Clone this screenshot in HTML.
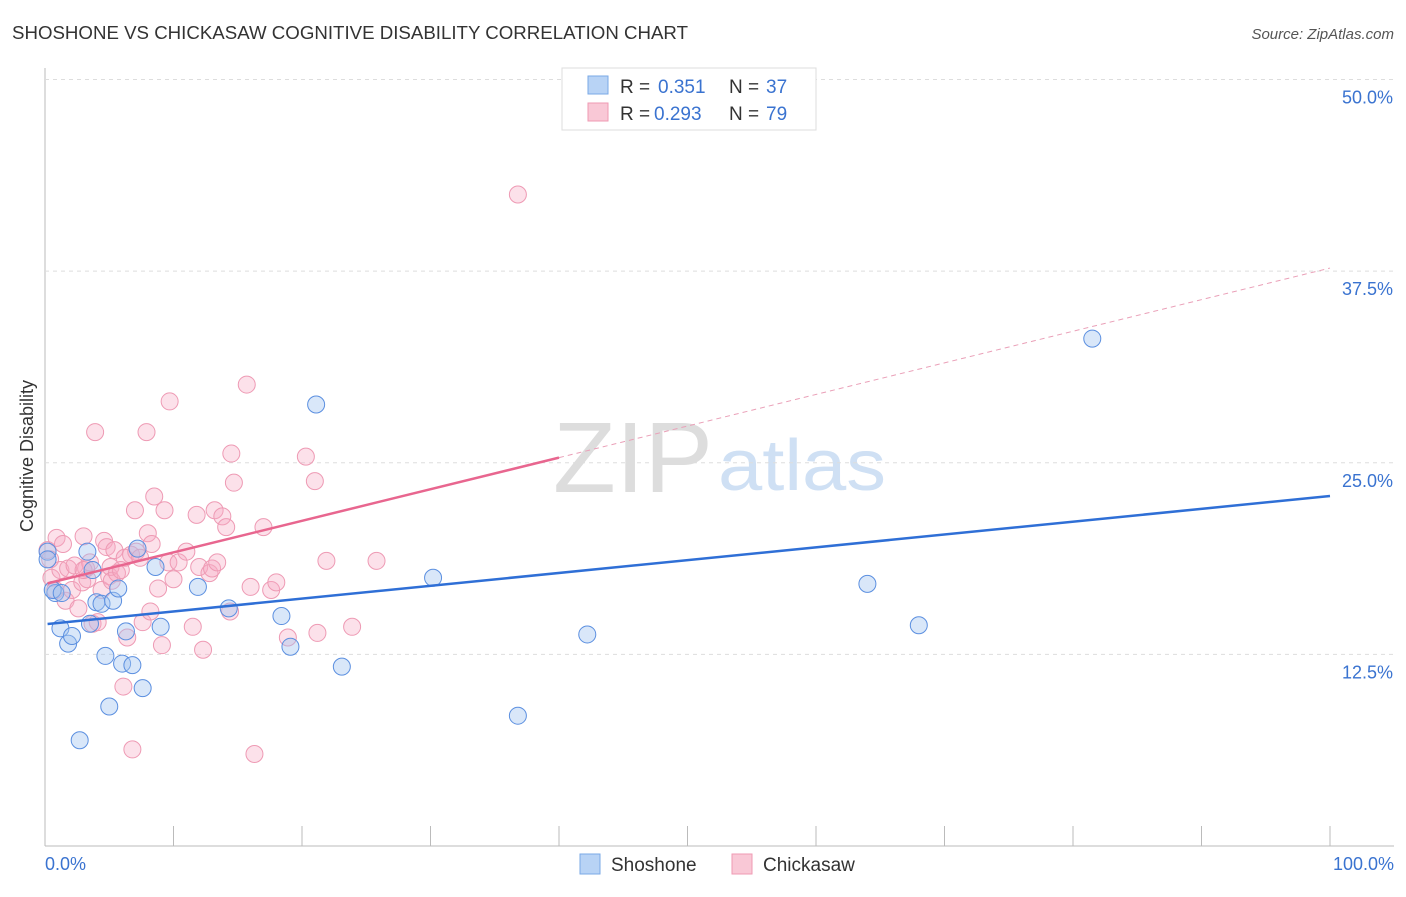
<!DOCTYPE html>
<html><head><meta charset="utf-8"><style>
body{margin:0;background:#fff;font-family:"Liberation Sans",sans-serif}
svg text{font-family:"Liberation Sans",sans-serif}
</style></head><body>
<svg id="chart" width="1406" height="892">
<text x="12" y="39" font-size="18" fill="#333" textLength="676" lengthAdjust="spacingAndGlyphs">SHOSHONE VS CHICKASAW COGNITIVE DISABILITY CORRELATION CHART</text>
<text x="1394" y="39" font-size="15" fill="#555" font-style="italic" text-anchor="end">Source: ZipAtlas.com</text>
<text x="33" y="456" font-size="18" fill="#333" text-anchor="middle" transform="rotate(-90 33 456)">Cognitive Disability</text>
<text x="553" y="492" font-size="100" fill="#ddd" font-family="Liberation Serif" textLength="160" lengthAdjust="spacingAndGlyphs">ZIP</text>
<text x="718" y="490" font-size="72" fill="#cfe0f4" textLength="168" lengthAdjust="spacingAndGlyphs">atlas</text>
<g id="grid"></g><g id="marks"></g><g id="lines"></g>
<g>
<rect x="562" y="68" width="254" height="62" fill="#fff" stroke="#ddd"/>
<rect x="588" y="76" width="20" height="18" fill="#b8d3f5" stroke="#7aa8e6"/>
<rect x="588" y="103" width="20" height="18" fill="#f9c8d6" stroke="#ef9ab3"/>
<text x="620" y="93" font-size="19" fill="#333">R =</text><text x="658" y="93" font-size="19" fill="#3a73d0">0.351</text>
<text x="729" y="93" font-size="19" fill="#333">N =</text><text x="766" y="93" font-size="19" fill="#3a73d0">37</text>
<text x="620" y="120" font-size="19" fill="#333">R =</text><text x="654" y="120" font-size="19" fill="#3a73d0">0.293</text>
<text x="729" y="120" font-size="19" fill="#333">N =</text><text x="766" y="120" font-size="19" fill="#3a73d0">79</text>
</g>
<g>
<rect x="580" y="854" width="20" height="20" fill="#b8d3f5" stroke="#7aa8e6"/>
<text x="611" y="871" font-size="19" fill="#333">Shoshone</text>
<rect x="732" y="854" width="20" height="20" fill="#f9c8d6" stroke="#ef9ab3"/>
<text x="763" y="871" font-size="19" fill="#333">Chickasaw</text>
</g>
</svg>
<script>
const yTicks=[12.5,25,37.5,50];
const yTickLabels=["12.5%","25.0%","37.5%","50.0%"];
const xTickLabels=["0.0%","100.0%"];
const shoshoneX=[0.2,0.8,1.2,1.8,2.1,2.7,3.3,3.5,3.7,4.0,4.4,4.7,5.0,5.3,5.7,6.0,6.3,6.8,7.2,7.6,8.6,9.0,11.9,14.3,18.4,19.1,21.1,23.1,30.2,36.8,42.2,64.0,68.0,81.5,0.6,0.2,1.3];
const shoshoneY=[19.2,16.5,14.2,13.2,13.7,6.9,19.2,14.5,18.0,15.9,15.8,12.4,9.1,16.0,16.8,11.9,14.0,11.8,19.4,10.3,18.2,14.3,16.9,15.5,15.0,13.0,28.8,11.7,17.5,8.5,13.8,17.1,14.4,33.1,16.7,18.7,16.5];
const chickasawX=[0.2,0.4,0.5,0.8,0.9,1.2,1.4,1.6,1.8,2.1,2.3,2.6,2.9,3.0,3.2,3.3,3.5,3.7,3.9,4.1,4.4,4.6,4.8,5.0,5.1,5.2,5.4,5.6,6.1,6.2,6.4,6.7,6.8,7.0,7.1,7.4,7.6,7.9,8.0,8.3,8.2,8.5,8.8,9.1,9.3,9.6,9.7,10.0,10.4,11.0,11.5,11.8,12.0,12.3,12.8,13.0,13.2,13.4,13.8,14.1,14.4,14.5,14.7,15.7,16.0,16.3,17.0,17.6,18.0,18.9,20.3,21.0,21.2,21.9,23.9,25.8,36.8,3.0,5.9];
const chickasawY=[19.3,18.7,17.5,16.7,20.1,18.0,19.7,16.0,18.1,16.7,18.3,15.5,17.2,20.2,18.1,17.4,18.5,14.5,27.0,14.6,16.7,19.9,19.5,17.6,18.2,17.3,19.3,17.8,10.4,18.8,13.6,19.0,6.3,21.9,19.2,18.8,14.6,27.0,20.4,19.7,15.3,22.8,16.8,13.1,21.9,18.5,29.0,17.4,18.5,19.2,14.3,21.6,18.2,12.8,17.8,18.1,21.9,18.5,21.5,20.8,15.3,25.6,23.7,30.1,16.9,6.0,20.8,16.7,17.2,13.6,25.4,23.8,13.9,18.6,14.3,18.6,42.5,18.0,18.0];
const blueTrend=[14.48,22.83];
const pinkTrend=[17.09,37.7];
const pinkSolidEnd=40;
const X=v=>45+v*12.85, Y=v=>846-v*15.33;
const NS="http://www.w3.org/2000/svg";
function mk(tag,attrs,parent){const e=document.createElementNS(NS,tag);for(const k in attrs)e.setAttribute(k,attrs[k]);document.getElementById(parent).appendChild(e);return e;}
const g="grid";
mk("line",{x1:45,y1:68,x2:45,y2:846,stroke:"#bbb"},g);
mk("line",{x1:45,y1:846,x2:1394,y2:846,stroke:"#bbb"},g);
for(let i=0;i<=10;i++){mk("line",{x1:X(i*10),y1:826,x2:X(i*10),y2:846,stroke:"#bbb"},g);}
yTicks.forEach((t,i)=>{
 const l=mk("line",{x1:45,y1:Y(t),x2:1394,y2:Y(t),stroke:"#ddd","stroke-dasharray":"4,4"},g);
 
 
 const tx=mk("text",{x:1393,y:Y(t)+24,"font-size":18,fill:"#3a73d0","text-anchor":"end"},g);tx.textContent=yTickLabels[i];
 
 
});
[[0,"start",45],[100,"end",1394]].forEach((d,i)=>{const tx=mk("text",{x:d[2],y:870,"font-size":18,fill:"#3a73d0","text-anchor":d[1]},g);tx.textContent=xTickLabels[i];
 
 });
chickasawX.forEach((x,i)=>{const c=mk("circle",{cx:X(x),cy:Y(chickasawY[i]),r:8.5,fill:"rgba(246,170,195,0.35)",stroke:"#ee9ab4","stroke-width":1},"marks");
 
 });
shoshoneX.forEach((x,i)=>{const c=mk("circle",{cx:X(x),cy:Y(shoshoneY[i]),r:8.5,fill:"rgba(160,195,240,0.4)",stroke:"#5b8fe0","stroke-width":1},"marks");
 
 });
const bl=mk("line",{x1:X(0.2),y1:Y(blueTrend[0]),x2:X(100),y2:Y(blueTrend[1]),stroke:"#2f6fd6","stroke-width":2.5},"lines");


const pv=x=>pinkTrend[0]+(pinkTrend[1]-pinkTrend[0])*x/100;
const pl=mk("line",{x1:X(0.2),y1:Y(pv(0.2)),x2:X(pinkSolidEnd),y2:Y(pv(pinkSolidEnd)),stroke:"#e8668f","stroke-width":2.5},"lines");


const pd=mk("line",{x1:X(pinkSolidEnd),y1:Y(pv(pinkSolidEnd)),x2:X(100),y2:Y(pv(100)),stroke:"#eaa0b8","stroke-width":1,"stroke-dasharray":"5,4"},"lines");


</script>
</body></html>
